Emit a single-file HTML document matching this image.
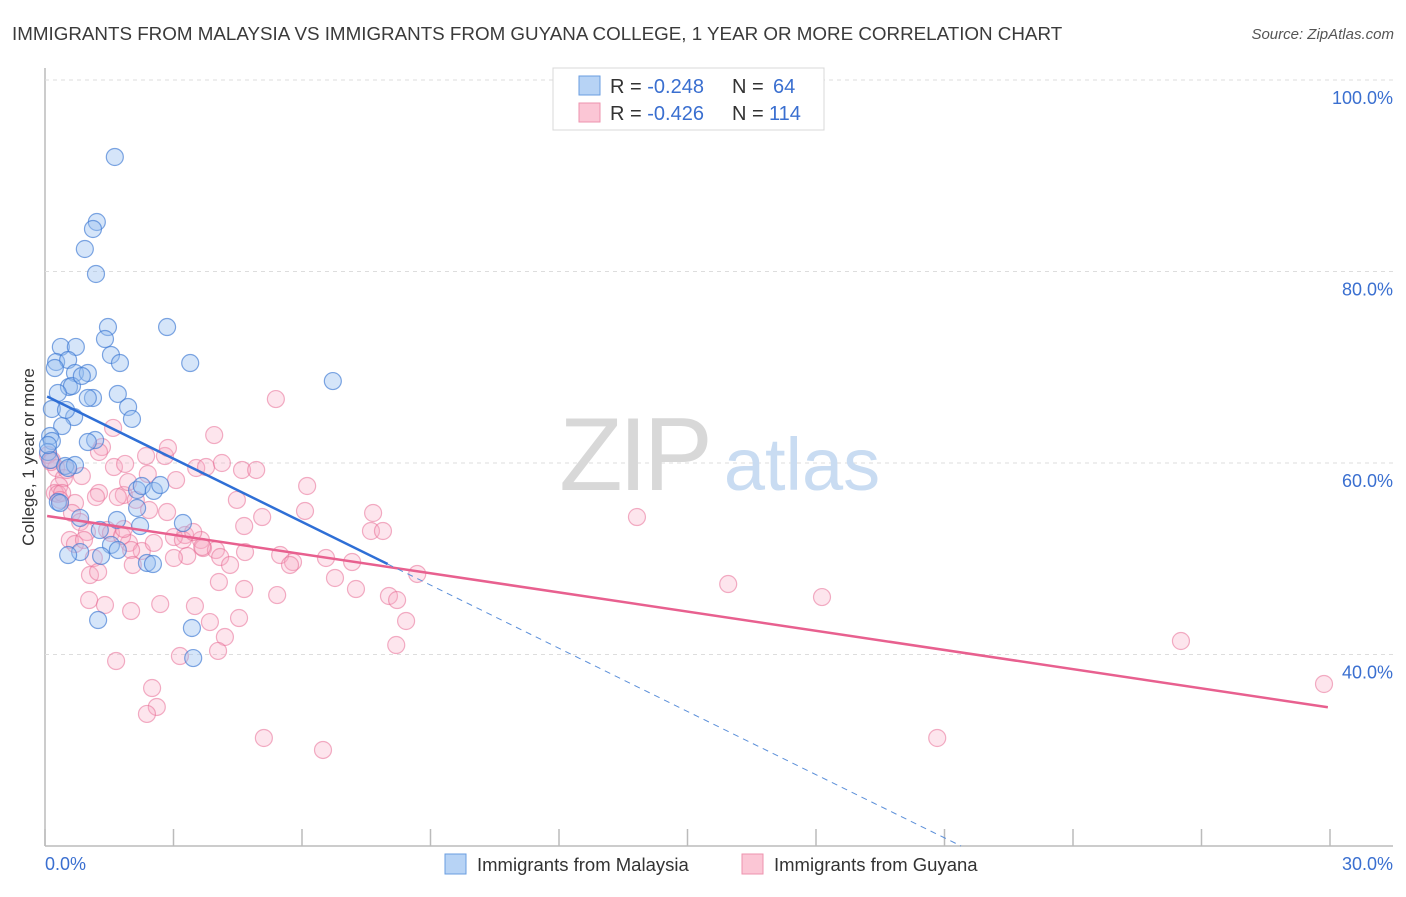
<!DOCTYPE html>
<html><head><meta charset="utf-8"><style>
body{margin:0;background:#fff;font-family:"Liberation Sans",sans-serif;}
svg text{font-family:"Liberation Sans",sans-serif;}
</style></head><body>
<svg id="chart" width="1406" height="892" xmlns="http://www.w3.org/2000/svg">
<text x="12" y="40" font-size="18.8" fill="#3a3a3a">IMMIGRANTS FROM MALAYSIA VS IMMIGRANTS FROM GUYANA COLLEGE, 1 YEAR OR MORE CORRELATION CHART</text>
<text x="1394" y="39" font-size="15" font-style="italic" fill="#555" text-anchor="end">Source: ZipAtlas.com</text>
<g id="grid"></g>
<g>
<text x="634" y="490" font-size="104" font-family="Liberation Serif,serif" fill="#d8d8d8" text-anchor="middle" letter-spacing="-4">ZIP</text>
<text x="802" y="490" font-size="74" fill="#c9dcf2" text-anchor="middle">atlas</text>
</g>
<g id="pts"></g>
<g id="lines"></g>
<text transform="translate(34,457) rotate(-90)" font-size="17" fill="#333" text-anchor="middle">College, 1 year or more</text>
<g>
<rect x="553" y="68" width="271" height="62" fill="#fff" stroke="#d8d8d8"/>
<rect x="579" y="76" width="21" height="19" fill="#b7d3f5" stroke="#6a9ee0"/>
<rect x="579" y="103" width="21" height="19" fill="#fbc6d5" stroke="#ee93ae"/>
<text x="610" y="93" font-size="20" fill="#333">R = <tspan fill="#3a6fd0">-0.248</tspan><tspan x="732">N = </tspan><tspan x="773" fill="#3a6fd0">64</tspan></text>
<text x="610" y="120" font-size="20" fill="#333">R = <tspan fill="#3a6fd0">-0.426</tspan><tspan x="732">N = </tspan><tspan x="769" fill="#3a6fd0">114</tspan></text>
</g>
<g>
<rect x="445" y="854" width="21" height="20" fill="#b7d3f5" stroke="#6a9ee0"/>
<text x="477" y="871" font-size="18.5" fill="#333">Immigrants from Malaysia</text>
<rect x="742" y="854" width="21" height="20" fill="#fbc6d5" stroke="#ee93ae"/>
<text x="774" y="871" font-size="18.5" fill="#333">Immigrants from Guyana</text>
</g>
</svg>
<script>
const yTicks=[40,60,80,100];
const yTickLabels=["40.0%","60.0%","80.0%","100.0%"];
const xTicks=[0,3,6,9,12,15,18,21,24,27,30];
const xEndLabels=["0.0%","30.0%"];
const malaysiaX=[1.63,1.21,1.12,0.93,1.19,1.47,2.85,1.40,0.37,0.72,0.26,1.54,3.39,1.75,0.54,0.23,0.70,1.00,6.72,0.56,0.63,0.30,1.70,1.12,1.00,1.94,0.16,0.68,2.03,0.40,0.12,0.16,1.17,1.00,0.07,0.12,0.47,0.70,0.54,0.30,0.82,2.15,2.26,2.54,2.69,2.15,1.68,2.22,3.22,1.54,1.31,2.38,2.52,0.82,1.24,3.43,3.46,0.07,0.49,0.35,1.70,1.28,0.54,0.86];
const malaysiaY=[91.96,85.17,84.44,82.35,79.74,74.20,74.20,72.95,72.12,72.12,70.55,71.28,70.44,70.44,70.76,69.92,69.40,69.40,68.56,67.94,68.04,67.31,67.21,66.79,66.79,65.85,65.64,64.80,64.60,63.86,62.82,62.30,62.40,62.19,61.15,60.31,59.69,59.79,59.48,55.93,54.26,57.18,57.60,57.08,57.70,55.30,54.05,53.42,53.73,51.44,50.29,49.56,49.45,50.70,43.60,42.77,39.63,61.88,65.54,55.82,50.91,53.00,50.39,69.09];
const guyanaX=[5.39,13.82,15.95,18.14,26.52,29.86,20.83,3.95,1.59,0.07,0.16,0.26,0.44,0.33,0.51,0.23,0.86,1.33,1.26,2.36,1.61,1.87,2.40,3.06,3.53,3.76,4.13,4.60,4.93,6.12,4.48,5.07,6.07,7.66,7.61,2.43,2.85,3.27,3.64,1.84,1.70,1.26,0.30,0.70,0.63,0.82,1.45,1.54,1.96,0.58,0.70,2.26,2.54,3.01,3.22,3.32,3.69,3.99,4.09,4.67,4.65,5.49,5.79,6.56,7.17,7.89,1.14,1.05,1.24,1.03,2.01,1.80,3.01,4.06,4.65,5.42,6.77,7.26,8.03,8.22,8.43,8.20,5.72,2.69,3.50,3.85,4.53,4.20,4.04,3.15,1.66,2.50,2.61,2.38,5.11,6.49,1.84,0.98,1.40,2.01,0.40,0.91,1.94,2.12,2.80,3.46,2.05,0.14,2.87,1.19,0.35,3.67,4.32,8.69];
const guyanaY=[66.68,54.36,47.36,46.00,41.41,36.92,31.28,62.92,63.66,60.84,60.31,59.48,58.43,57.60,59.27,56.87,58.64,61.67,61.15,60.73,59.58,59.90,58.85,58.22,59.48,59.58,60.00,59.27,59.27,57.60,56.14,54.36,54.99,54.78,52.90,55.09,54.88,52.48,51.96,56.66,56.45,56.87,56.76,55.82,54.78,53.84,53.00,52.69,51.65,51.96,51.54,50.81,51.65,52.27,51.96,50.29,51.12,50.91,50.18,50.70,53.42,50.39,49.66,50.08,49.66,52.90,50.08,48.30,48.62,45.69,50.91,52.38,50.08,47.57,46.84,46.21,47.99,46.84,46.11,45.69,43.50,40.99,49.35,45.27,45.06,43.39,43.81,41.83,40.37,39.84,39.32,36.50,34.52,33.79,31.28,30.03,53.11,52.79,45.17,44.54,56.87,51.96,58.01,56.14,60.73,52.79,49.35,60.10,61.57,56.45,56.14,51.23,49.35,48.41];
const malaysiaTrend=[67.05,-2.2];
const guyanaTrend=[54.5,-0.668];

const NS="http://www.w3.org/2000/svg";
const X0=45,X1=1330,Y0=846,YT=80;
const sx=v=>X0+(v/30)*(X1-X0);
const sy=v=>Y0-(v-20)/80*(Y0-YT);
function mk(tag,attrs,parent){const e=document.createElementNS(NS,tag);for(const k in attrs)e.setAttribute(k,attrs[k]);parent.appendChild(e);return e;}
const grid=document.getElementById('grid');
let ax=mk('line',{x1:X0,y1:68,x2:X0,y2:Y0,stroke:'#bbb','stroke-width':1.5},grid);


let bx=mk('line',{x1:X0,y1:Y0,x2:1393,y2:Y0,stroke:'#bbb','stroke-width':1.5},grid);


yTicks.forEach((t,i)=>{
  const g=mk('line',{x1:X0,x2:1393,y1:sy(t),y2:sy(t),stroke:'#ddd','stroke-dasharray':'4,4'},grid);
  
  
  const l=mk('text',{x:1393,y:sy(t)+24,'font-size':18,fill:'#3a6fd0','text-anchor':'end'},grid);
  l.textContent=yTickLabels[i];
  
  
});
xTicks.forEach(t=>{
  const k=mk('line',{x1:sx(t),x2:sx(t),y1:Y0-17,y2:Y0,stroke:'#bbb','stroke-width':1.5},grid);
  
  
});
let xl0=mk('text',{x:45,y:870,'font-size':18,fill:'#3a6fd0'},grid);xl0.textContent=xEndLabels[0];


let xl1=mk('text',{x:1393,y:870,'font-size':18,fill:'#3a6fd0','text-anchor':'end'},grid);xl1.textContent=xEndLabels[1];


const pts=document.getElementById('pts');
guyanaX.forEach((x,i)=>{
  const c=mk('circle',{cx:sx(x),cy:sy(guyanaY[i]),r:8.5,fill:'rgba(248,170,195,0.3)',stroke:'rgba(232,110,150,0.55)','stroke-width':1.2},pts);
  
  
});
malaysiaX.forEach((x,i)=>{
  const c=mk('circle',{cx:sx(x),cy:sy(malaysiaY[i]),r:8.5,fill:'rgba(150,190,240,0.4)',stroke:'rgba(60,120,210,0.65)','stroke-width':1.2},pts);
  
  
});
const lines=document.getElementById('lines');
const f=(tr,x)=>tr[0]+tr[1]*x;
let gl=mk('line',{x1:sx(0.05),y1:sy(f(guyanaTrend,0.05)),x2:sx(29.95),y2:sy(f(guyanaTrend,29.95)),stroke:'#e8608f','stroke-width':2.5},lines);


const xEnd=(20-malaysiaTrend[0])/malaysiaTrend[1];
let md=mk('line',{x1:sx(8),y1:sy(f(malaysiaTrend,8)),x2:sx(xEnd),y2:sy(20),stroke:'#5b8fd9','stroke-width':1,'stroke-dasharray':'6,5'},lines);


let ml=mk('line',{x1:sx(0.05),y1:sy(f(malaysiaTrend,0.05)),x2:sx(8),y2:sy(f(malaysiaTrend,8)),stroke:'#2f6fd6','stroke-width':2.5},lines);


</script>
</body></html>
